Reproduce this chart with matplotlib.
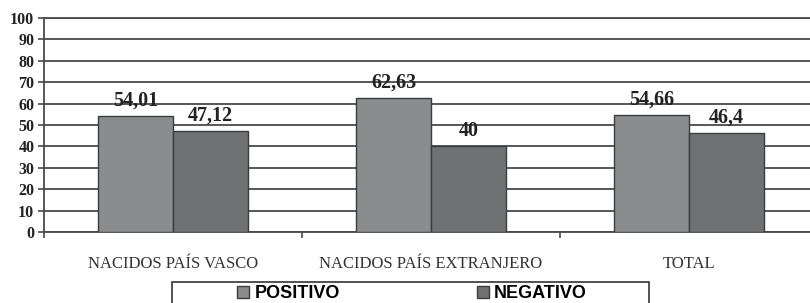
import matplotlib.pyplot as plt
from matplotlib.patches import Rectangle
import numpy as np

categorias = ["NACIDOS PAÍS VASCO", "NACIDOS PAÍS EXTRANJERO", "TOTAL"]
positivo = [54.01, 62.63, 54.66]
negativo = [47.12, 40, 46.4]
etiq_pos = ["54,01", "62,63", "54,66"]
etiq_neg = ["47,12", "40", "46,4"]
yticks = [0, 10, 20, 30, 40, 50, 60, 70, 80, 90, 100]

col_pos = "#8b8c8e"
col_neg = "#6f7173"
grid_col = "#4a4a4a"

fig = plt.figure(figsize=(8.1, 3.03), dpi=100)
# axes runs slightly past the right edge, like the cropped original
ax = fig.add_axes([44 / 810, 71 / 303, 774 / 810, 214 / 303])

x = np.arange(len(categorias))
w = 0.29
b1 = ax.bar(x - w / 2, positivo, w, color=col_pos, edgecolor="#3c3c3c", linewidth=1, zorder=3)
b2 = ax.bar(x + w / 2, negativo, w, color=col_neg, edgecolor="#3c3c3c", linewidth=1, zorder=3)

for bars, labs in ((b1, etiq_pos), (b2, etiq_neg)):
    for r, t in zip(bars, labs):
        ax.annotate(t, (r.get_x() + r.get_width() / 2, r.get_height()),
                    xytext=(0, 4), textcoords="offset points", ha="center", va="bottom",
                    family="Liberation Serif", fontweight="bold", fontsize=14.5, color="#222222", zorder=4)

ax.set_xlim(-0.5, 2.5)
ax.set_ylim(0, 100)
ax.set_yticks(yticks)
ax.set_yticklabels([str(v) for v in yticks], family="Liberation Serif", fontweight="bold",
                   fontsize=11.5, color="#222222")
ax.yaxis.grid(True, color=grid_col, linewidth=1.3, zorder=0)

ax.set_xticks([-0.5, 0.5, 1.5, 2.5])
ax.set_xticklabels([])
ax.set_xticks(x, minor=True)
ax.set_xticklabels(categorias, minor=True, family="Liberation Serif", fontsize=12, color="#333333")
ax.tick_params(axis="x", which="minor", length=0, pad=17)
ax.tick_params(axis="x", which="major", length=4, color=grid_col, width=1.2)
ax.tick_params(axis="y", length=4, color=grid_col, width=1.2, pad=3)

ax.spines["right"].set_visible(False)
for s in ("left", "bottom", "top"):
    ax.spines[s].set_color(grid_col)
    ax.spines[s].set_linewidth(1.3)

leg = fig.legend([b1, b2], ["POSITIVO", "NEGATIVO"], loc="center",
                 bbox_to_anchor=(412 / 810, 9 / 303), ncol=2, frameon=False, borderpad=0.0,
                 handlelength=0.65, handleheight=0.65, handletextpad=0.3, columnspacing=7.6,
                 prop={"family": "Liberation Sans", "weight": "bold", "size": 13})
fig.patches.append(Rectangle((172 / 810, -0.05), 477 / 810, 21 / 303 + 0.05,
                             transform=fig.transFigure, fill=False, edgecolor="#333333",
                             linewidth=1.2))

fig.savefig("out.png", dpi=100)
